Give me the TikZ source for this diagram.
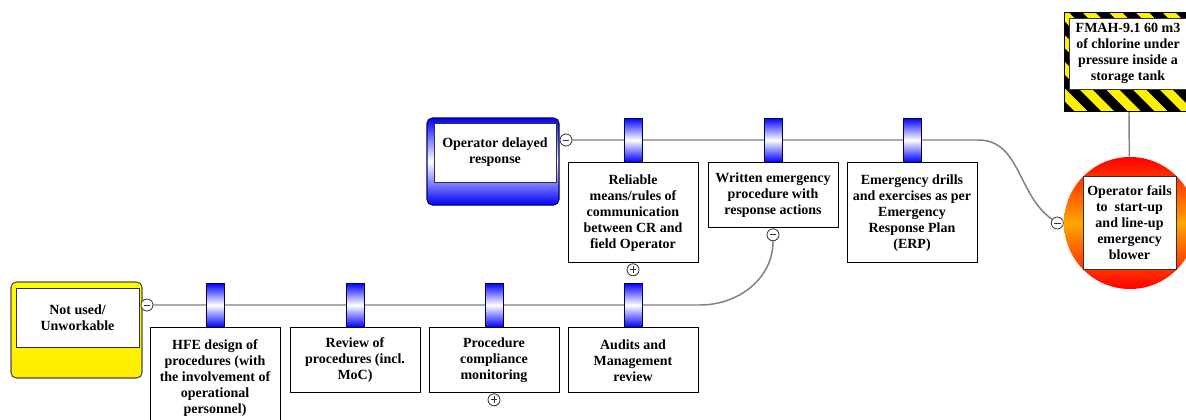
\documentclass[tikz,border=0pt]{standalone}
\usepackage{fontspec}
\setmainfont{Liberation Serif}
\usepackage{tikz}
\usetikzlibrary{positioning, calc, backgrounds}
\colorlet{glow}{orange!70!yellow}
\tikzset{
  conn/.style={
    draw=gray,
    line width=1.1pt
  },
  boxfont/.style={
    font=\bfseries\fontsize{10.5}{12}\selectfont
  },
  barrierbox/.style={
    rectangle,
    draw=black,
    fill=white,
    line width=0.7pt,
    minimum width=97.5pt,
    minimum height=48.75pt,
    align=center,
    boxfont,
    inner sep=2pt
  },
  tallbox/.style={
    barrierbox,
    minimum height=75pt
  },
  handle/.style={
    rectangle,
    draw=black!70!blue,
    line width=0.7pt,
    top color=blue,
    bottom color=blue,
    middle color=white,
    minimum width=13.5pt,
    minimum height=33pt,
    inner sep=0pt
  },
  textbox/.style={
    rectangle,
    draw=black!80,
    fill=white,
    line width=0.6pt,
    align=center,
    boxfont,
    inner sep=1pt
  },
  threatframe/.style={
    rectangle,
    rounded corners=4pt,
    draw=blue!40!black,
    line width=0.8pt,
    top color=blue,
    bottom color=blue,
    middle color=white,
    minimum width=99pt,
    minimum height=65.25pt
  },
  escframe/.style={
    rectangle,
    rounded corners=4pt,
    draw=black!70,
    line width=0.8pt,
    top color=yellow,
    bottom color=yellow!85!orange,
    minimum width=98.25pt,
    minimum height=72pt
  },
  hazardframe/.style={
    rectangle,
    draw=black,
    fill=yellow,
    line width=0.6pt,
    minimum width=96.75pt,
    minimum height=74.25pt,
    path picture={
      \foreach \k in {-9,...,4}
        \draw[black, line width=7pt] ($(path picture bounding box.north)+(\k*20pt,20pt)$) -- ++(110pt,-110pt);
    }
  },
  topcircle/.style={
    circle,
    top color=red,
    bottom color=red,
    middle color=glow,
    minimum size=99pt,
    inner sep=0pt
  },
  signnode/.style={
    circle,
    draw=black!80,
    fill=white,
    line width=0.6pt,
    minimum size=9pt,
    inner sep=0pt
  },
  minusnode/.style={
    signnode,
    path picture={
      \draw[line width=0.6pt] ($(path picture bounding box.center)+(-2.5pt,0pt)$) -- ++(5pt,0pt);
    }
  },
  plusnode/.style={
    signnode,
    path picture={
      \draw[line width=0.6pt] ($(path picture bounding box.center)+(-2.5pt,0pt)$) -- ++(5pt,0pt);
      \draw[line width=0.6pt] ($(path picture bounding box.center)+(0pt,-2.5pt)$) -- ++(0pt,5pt);
    }
  }
}

\begin{document}
\begin{tikzpicture}[x=0.75pt, y=0.75pt]
  \useasboundingbox (0,0) rectangle (1186,419);
  \clip (0,0) rectangle (1186,419);

  \node[hazardframe] (hazard) at (1128.5,357.5) {};
  \node[textbox, minimum width=88.5pt, minimum height=53.25pt] (hazardtxt) at (1128,365.5)
    {FMAH-9.1 60 m3\\of chlorine under\\pressure inside a\\storage tank};
  \node[topcircle] (top) at (1130,196) {};
  \node[textbox, minimum width=69.75pt, minimum height=69.75pt] (toptxt) at (1129.5,196.5)
    {Operator fails\\to\ \ start-up\\and line-up\\emergency\\blower};
  \node[minusnode, left=0pt of top] (m4) {};

  \node[threatframe] (threat) at (493,257.5) {};
  \node[textbox, minimum width=91.5pt, minimum height=44.25pt] (threattxt) at (495,266.5)
    {Operator delayed\\response};
  \node[minusnode] (m1) at (566,279) {};
  \node[handle] (h1) at (633,279) {};
  \node[handle] (h2) at (773,279) {};
  \node[handle] (h3) at (912,279) {};
  \node[tallbox, below=0pt of h1] (b1)
    {Reliable\\means/rules of\\communication\\between CR and\\field Operator};
  \node[barrierbox, below=0pt of h2] (b2)
    {Written emergency\\procedure with\\response actions};
  \node[tallbox, below=0pt of h3] (b3)
    {Emergency drills\\and exercises as per\\Emergency\\Response Plan\\(ERP)};
  \node[plusnode, below=0pt of b1] (p1) {};
  \node[minusnode, below=0pt of b2] (m3) {};

  \node[escframe] (esc) at (76.5,89) {};
  \node[textbox, minimum width=92.25pt, minimum height=44.25pt] (esctxt) at (77.5,101.5)
    {Not used/\\Unworkable};
  \node[minusnode] (m2) at (147,114) {};
  \node[handle] (h4) at (215,114) {};
  \node[handle] (h5) at (355,114) {};
  \node[handle] (h6) at (494,114) {};
  \node[handle] (h7) at (633,114) {};
  \node[tallbox, below=0pt of h4] (e1)
    {HFE design of\\procedures (with\\the involvement of\\operational\\personnel)};
  \node[barrierbox, below=0pt of h5] (e2)
    {Review of\\procedures (incl.\\MoC)};
  \node[barrierbox, below=0pt of h6] (e3)
    {Procedure\\compliance\\monitoring};
  \node[barrierbox, below=0pt of h7] (e4)
    {Audits and\\Management\\review};
  \node[plusnode, below=0pt of e3] (p2) {};

  \coordinate (k1) at (978,279);
  \coordinate (k2) at (700,114);
  \begin{scope}[on background layer]
    \draw[conn] (m1) -- (k1) to[out=0, in=145] (m4);
    \draw[conn] (m2) -- (k2) to[out=0, in=-90] (m3);
    \draw[conn] (hazard) -- (top);
  \end{scope}
\end{tikzpicture}
\end{document}
